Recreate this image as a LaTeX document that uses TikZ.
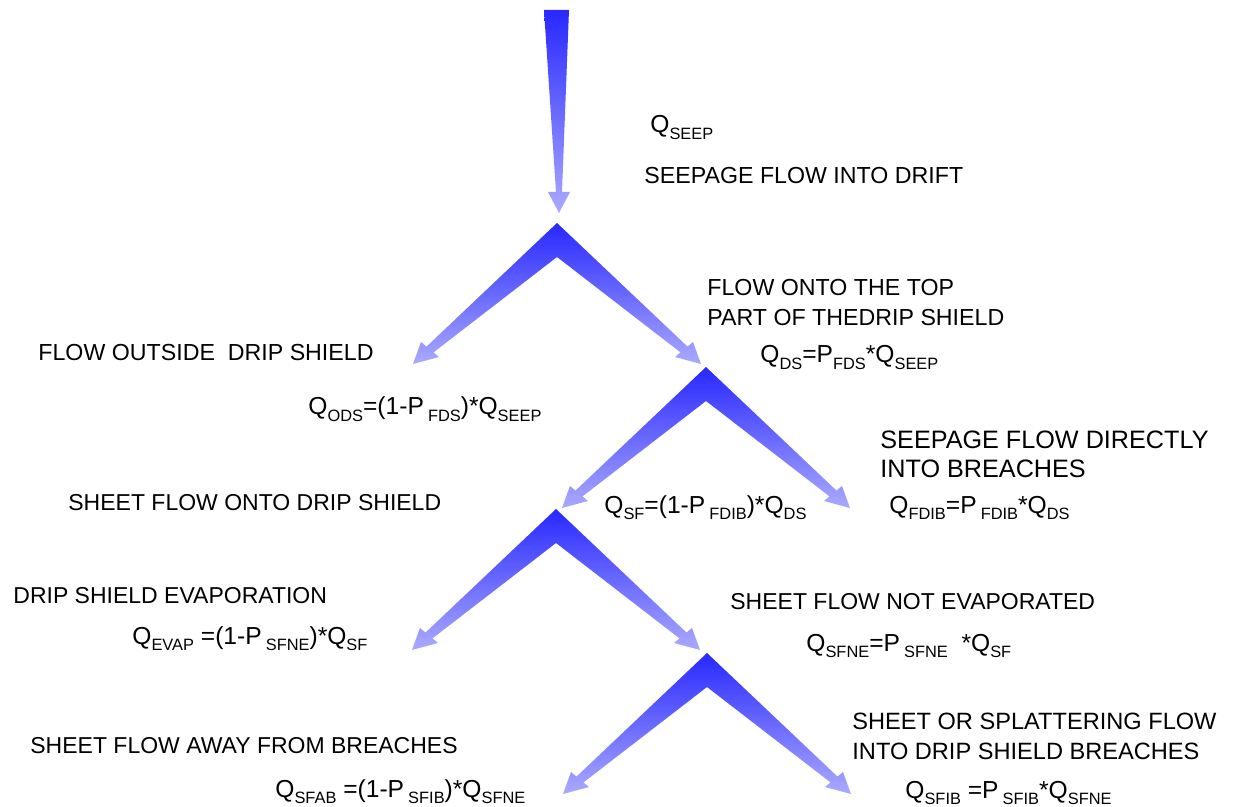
\documentclass[tikz,border=0pt]{standalone}
\usepackage{fontspec}
\setmainfont{Liberation Sans}
\definecolor{dk}{RGB}{40,40,255}
\definecolor{lt}{RGB}{170,170,255}
\newcommand{\lsb}[1]{\raisebox{-3.3pt}{\fontsize{8.2}{9}\selectfont #1}}
\tikzset{
  lbl/.style={anchor=base west, inner sep=0pt, font=\fontsize{11.5}{15}\selectfont, align=left},
  frm/.style={anchor=base west, inner sep=0pt, font=\fontsize{12.3}{15}\selectfont},
  chev/.style={top color=dk, bottom color=lt, draw=none}
}
\begin{document}
\begin{tikzpicture}[x=0.5pt,y=-0.5pt]
\useasboundingbox (0,0) rectangle (1242,807);
% top arrow
\shade[top color=dk, bottom color=lt] (544,10) -- (569,10) -- (562,192) -- (570,192) -- (559,213) -- (548,192) -- (556,192) -- cycle;
% chevrons
\foreach \ax/\ay/\nm in {557/223/c1, 706/367/c2, 556/509/c3, 707/653/c4} {
  \coordinate (\nm) at (\ax,\ay);
  \shade[chev, shift={(\ax,\ay)}] (0,0) -- (130.5,123.6) -- (136,119) -- (144,141) -- (118,134) -- (123.5,129.4) -- (0,34) -- (-123.5,129.4) -- (-118,134) -- (-144,141) -- (-136,119) -- (-130.5,123.6) -- cycle;
}
% labels
\node[frm] (qseep) at (650,133) {Q\lsb{SEEP}};
\node[lbl, font=\fontsize{11.6}{15}\selectfont] (seep) at (644,184) {SEEPAGE FLOW INTO DRIFT};
\node[lbl, font=\fontsize{11.6}{15}\selectfont] (top) at (707,326) {FLOW ONTO THE TOP\\PART OF THEDRIP SHIELD};
\node[frm] (qds) at (760,363) {Q\lsb{DS}=P\lsb{FDS}*Q\lsb{SEEP}};
\node[lbl, font=\fontsize{11.6}{15}\selectfont] (ods) at (38,361) {FLOW OUTSIDE\ \ DRIP SHIELD};
\node[frm] (qods) at (308,415) {Q\lsb{ODS}=(1-P\,\lsb{FDS})*Q\lsb{SEEP}};
\node[lbl, font=\fontsize{12.6}{14.5}\selectfont] (direct) at (880,478) {SEEPAGE FLOW DIRECTLY\\INTO BREACHES};
\node[lbl] (sheet) at (68,510) {SHEET FLOW ONTO DRIP SHIELD};
\node[frm] (qsf) at (604,513) {Q\lsb{SF}=(1-P\,\lsb{FDIB})*Q\lsb{DS}};
\node[frm] (qfdib) at (889,513) {Q\lsb{FDIB}=P\,\lsb{FDIB}*Q\lsb{DS}};
\node[lbl] (evap) at (13,603) {DRIP SHIELD EVAPORATION};
\node[frm] (qevap) at (132,644) {Q\lsb{EVAP} =(1-P\,\lsb{SFNE})*Q\lsb{SF}};
\node[lbl] (notevap) at (730,609) {SHEET FLOW NOT EVAPORATED};
\node[frm] (qsfne) at (806,651) {Q\lsb{SFNE}=P\,\lsb{SFNE}\ \ *Q\lsb{SF}};
\node[lbl] (away) at (30,753) {SHEET FLOW AWAY FROM BREACHES};
\node[frm] (qsfab) at (275,797) {Q\lsb{SFAB} =(1-P\,\lsb{SFIB})*Q\lsb{SFNE}};
\node[lbl, font=\fontsize{11.8}{15}\selectfont] (splat) at (852,759) {SHEET OR SPLATTERING FLOW\\INTO DRIP SHIELD BREACHES};
\node[frm] (qsfib) at (905,798) {Q\lsb{SFIB} =P\,\lsb{SFIB}*Q\lsb{SFNE}};
\end{tikzpicture}
\end{document}
